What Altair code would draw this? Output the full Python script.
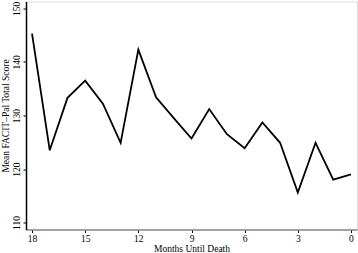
import altair as alt
import pandas as pd

months = list(range(18, -1, -1))
scores = [145.3, 123.5, 133.3, 136.5, 132.2, 124.9, 142.3, 133.4, 129.5, 125.7,
          131.2, 126.5, 123.9, 128.7, 124.9, 115.6, 124.9, 118.0, 119.0]
x_ticks = [18, 15, 12, 9, 6, 3, 0]
y_ticks = [110, 120, 130, 140, 150]

df = pd.DataFrame({"month": months, "score": scores})

font = "Liberation Serif"

chart = alt.Chart(df).mark_line(color="black", strokeWidth=1.8).encode(
    x=alt.X("month:Q",
            scale=alt.Scale(domain=[18.34, -0.34], nice=False, zero=False),
            axis=alt.Axis(values=x_ticks, title="Months Until Death", grid=False,
                          domainColor="#888888", domainWidth=1.5,
                          tickColor="black", tickSize=3, labelFont=font, labelFontSize=9.5,
                          labelColor="black", titleFont=font, titleFontSize=9.5,
                          titleFontWeight="normal", titleColor="black",
                          labelPadding=1, titlePadding=0, labelFlush=False)),
    y=alt.Y("score:Q",
            scale=alt.Scale(domain=[108.7, 151.3], nice=False, zero=False),
            axis=alt.Axis(values=y_ticks, title="Mean FACIT\u2013Pal Total Score", grid=False,
                          domainColor="black", domainWidth=1.5,
                          tickColor="black", tickSize=3, labelFont=font, labelFontSize=9.5,
                          labelColor="black", labelAngle=270, labelPadding=2,
                          titleFont=font, titleFontSize=9.5, titleFontWeight="normal",
                          titleColor="black", titlePadding=1, labelFlush=False)),
).properties(
    width=331, height=228,
    autosize=alt.AutoSizeParams(type="none"),
    padding={"left": 26, "top": 1.5, "right": 1, "bottom": 23},
).configure_view(stroke="black", strokeWidth=1.5).configure(background="white")

chart.save("out.html", embed_options={"renderer": "svg", "actions": False})
